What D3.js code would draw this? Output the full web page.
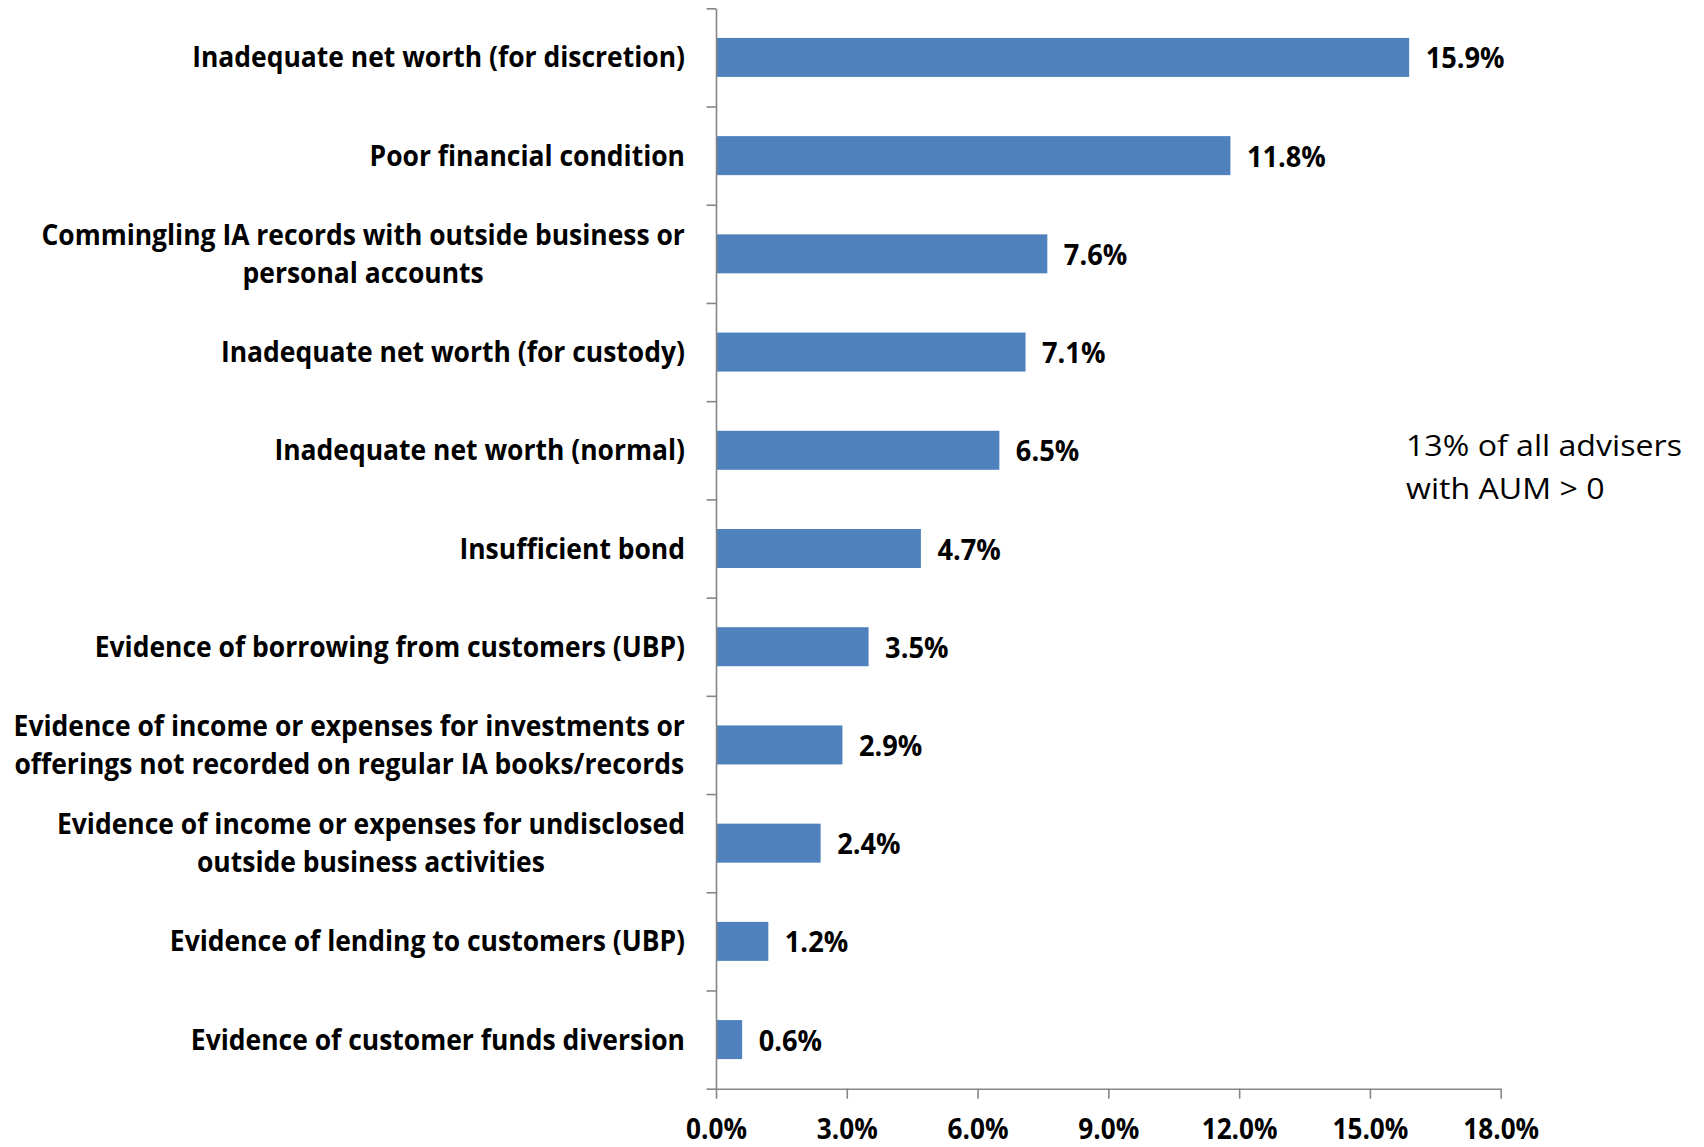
<!DOCTYPE html>
<html>
<head>
<meta charset="utf-8">
<script src="https://cdn.jsdelivr.net/npm/d3@7"></script>
<style>
  html, body { margin: 0; padding: 0; background: #ffffff; }
  svg { display: block; }
  text { font-family: "Open Sans", "Noto Sans", sans-serif; fill: #000; }
</style>
</head>
<body>
<div id="chart"></div>
<script>
// Reasons cited, top to bottom (line breaks mark wrapped labels)
const categories = [
  "Inadequate net worth (for discretion)",
  "Poor financial condition",
  "Commingling IA records with outside business or\npersonal accounts",
  "Inadequate net worth (for custody)",
  "Inadequate net worth (normal)",
  "Insufficient bond",
  "Evidence of borrowing from customers (UBP)",
  "Evidence of income or expenses for investments or\nofferings not recorded on regular IA books/records",
  "Evidence of income or expenses for undisclosed\noutside business activities",
  "Evidence of lending to customers (UBP)",
  "Evidence of customer funds diversion"
];
// Share of advisers (percent)
const values = [15.9, 11.8, 7.6, 7.1, 6.5, 4.7, 3.5, 2.9, 2.4, 1.2, 0.6];
// Horizontal axis ticks (percent)
const xTicks = [0, 3, 6, 9, 12, 15, 18];
const noteLines = ["13% of all advisers", "with AUM > 0"];

const W = 1704, H = 1147;
const axisColor = "#868686";
const barColor = "#4F81BD";

const svg = d3.select("#chart").append("svg")
  .attr("width", W).attr("height", H);

const x = d3.scaleLinear().domain([0, 18]).range([716, 1500.7]);
const pad = 1 - 39 / 98.2;
const y = d3.scaleBand().domain(d3.range(categories.length))
  .range([8.3, 1088.7]).paddingInner(pad).paddingOuter(pad / 2);
// boundaries between categories for the tick marks
const yEdge = d3.scaleLinear().domain([0, categories.length]).range([8.3, 1088.7]);

// helper: horizontal squeeze so a sample string spans a given width
function squeezeFactor(str, size, weight, target) {
  const t = svg.append("text").attr("font-size", size).attr("font-weight", weight).text(str);
  const w = t.node().getComputedTextLength();
  t.remove();
  return target / w;
}

// bars
svg.append("g").selectAll("rect")
  .data(values)
  .join("rect")
  .attr("x", x(0))
  .attr("y", (d, i) => y(i))
  .attr("width", d => x(d) - x(0))
  .attr("height", y.bandwidth())
  .attr("fill", barColor);

// vertical axis with ticks between categories
const yAxis = svg.append("g")
  .attr("transform", `translate(${x(0)},0)`)
  .call(d3.axisLeft(yEdge).tickValues(d3.range(categories.length + 1))
    .tickFormat("").tickSize(9.5).tickSizeOuter(0));
yAxis.selectAll("path, line").attr("stroke", axisColor).attr("stroke-width", 1.6);

// horizontal axis
const xAxis = svg.append("g")
  .attr("transform", `translate(0,${yEdge(categories.length)})`)
  .call(d3.axisBottom(x).tickValues(xTicks)
    .tickFormat(d => d.toFixed(1) + "%").tickSize(10).tickSizeOuter(0));
xAxis.selectAll("path, line").attr("stroke", axisColor).attr("stroke-width", 1.6);
const tickSq = squeezeFactor("0.0%", 28.5, 700, 61);
xAxis.selectAll("text")
  .attr("font-size", 28.5).attr("font-weight", 700)
  .attr("font-family", null).attr("fill", "#000")
  .attr("x", 0).attr("y", 0).attr("dy", 0)
  .attr("transform", `translate(0,50.5) scale(${tickSq},1)`);

// category labels, right-aligned block, wrapped lines centred within the block
const catSize = 28;
const catSq = squeezeFactor(categories[0], catSize, 700, 493);
const labelRight = 685;
const lineGap = 38.5;
const catG = svg.append("g");
categories.forEach((c, i) => {
  const lines = c.split("\n");
  const cy = y(i) + y.bandwidth() / 2;
  const widths = lines.map(l => {
    const t = catG.append("text").attr("font-size", catSize).attr("font-weight", 700).text(l);
    const w = t.node().getComputedTextLength() * catSq;
    t.remove();
    return w;
  });
  const maxW = d3.max(widths);
  const cx = labelRight - maxW / 2;
  lines.forEach((l, k) => {
    const base = cy + (k - (lines.length - 1) / 2) * lineGap + 10;
    catG.append("text")
      .attr("font-size", catSize).attr("font-weight", 700)
      .attr("text-anchor", lines.length > 1 ? "middle" : "end")
      .attr("transform", `translate(${lines.length > 1 ? cx : labelRight},${base}) scale(${catSq},1)`)
      .text(l);
  });
});

// value labels at bar ends
const valSq = squeezeFactor("15.9%", 29, 700, 79);
svg.append("g").selectAll("text")
  .data(values)
  .join("text")
  .attr("font-size", 29).attr("font-weight", 700)
  .attr("transform", (d, i) => `translate(${x(d) + 16.5},${y(i) + y.bandwidth() / 2 + 11}) scale(${valSq},1)`)
  .text(d => d.toFixed(1) + "%");

// note
const noteSq = squeezeFactor(noteLines[0], 30, 400, 276);
svg.append("g").selectAll("text")
  .data(noteLines)
  .join("text")
  .attr("font-size", 30).attr("font-weight", 400)
  .attr("transform", (d, i) => `translate(1406,${455.5 + i * 43.5}) scale(${noteSq},1)`)
  .text(d => d);
</script>
</body>
</html>
